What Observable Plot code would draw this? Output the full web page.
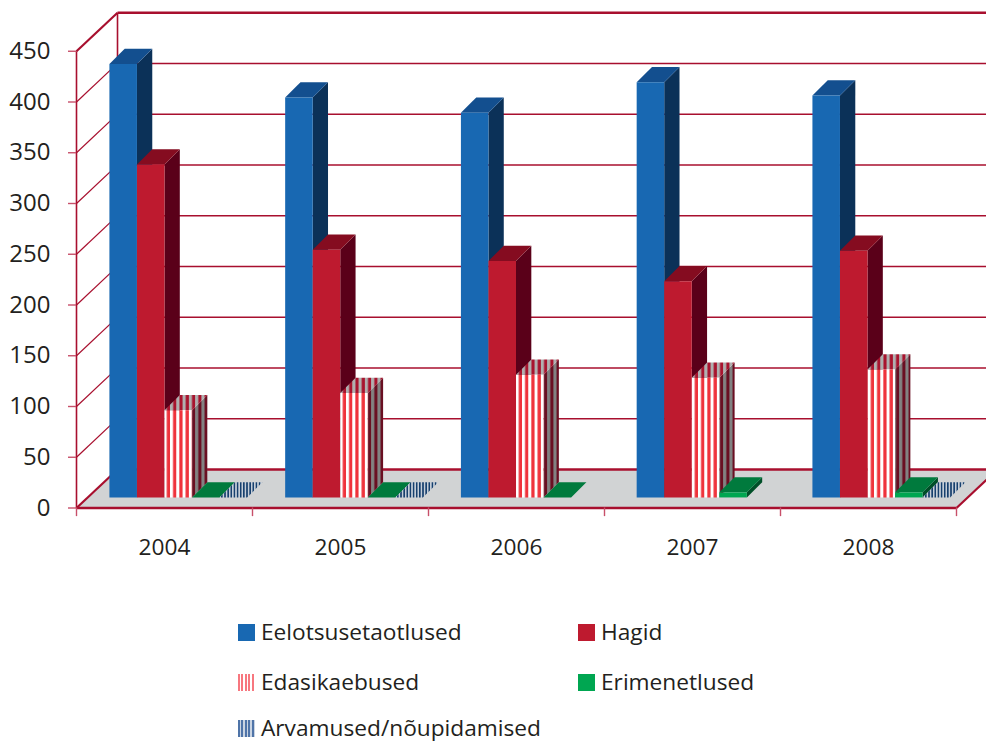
<!DOCTYPE html>
<html lang="et">
<head>
<meta charset="utf-8">
<script src="https://cdn.jsdelivr.net/npm/d3@7"></script>
<script src="https://cdn.jsdelivr.net/npm/@observablehq/plot@0.6"></script>
<style>
  html, body { margin: 0; padding: 0; background: #fff; overflow: hidden; }
  #page { position: relative; width: 986px; height: 744px; font-family: "Open Sans", sans-serif; color: #231f20; }
  #chart svg { display: block; }
  .key { position: absolute; display: flex; align-items: center; font-size: 22.7px; line-height: 24px; white-space: nowrap; }
  .key i { display: block; width: 17px; height: 17px; margin-right: 6px; }
</style>
</head>
<body>
<div id="page"><div id="chart"></div></div>
<script>
// Cases per year, by type of proceeding
const years = ["2004", "2005", "2006", "2007", "2008"];
const eelotsusetaotlused = [427, 394, 379, 409, 396];
const hagid = [328, 244, 233, 213, 243];
const edasikaebused = [86, 103, 121, 118, 126];
const erimenetlused = [0, 0, 0, 5, 5];
const arvamused = [0, 0, null, null, 0];
const valueTicks = [0, 50, 100, 150, 200, 250, 300, 350, 400, 450];

// Oblique projection, in scale units: one category along x, one case along y
const wallDx = 0.233, wallDy = 38;
const barDx = 0.087, barDy = 15;
const baseDx = 0.187, baseDy = 10.4;
const barWidth = 0.1565;
const groupPitch = 0.9986;
const xMax = 910 / 176;

const wine = "#a80f2e", tickPink = "#c8506a";
const stripePeriod = 176 / 28;
const legendRowTops = [620, 670, 716];

const series = [
  {name: "Eelotsusetaotlused", values: eelotsusetaotlused, front: "#1868b2", top: "#134f8f", side: "#0b3158", key: "#1868b2", col: 0, row: 0},
  {name: "Hagid", values: hagid, front: "#be1a2f", top: "#850c20", side: "#5a0019", key: "#be1a2f", col: 1, row: 0},
  {name: "Edasikaebused", values: edasikaebused, front: "url(#s-front)", top: "url(#s-top)", side: "url(#s-side)",
   key: "repeating-linear-gradient(90deg,#f7777f 0 2px,#fff 2px 3.4px)", col: 0, row: 1},
  {name: "Erimenetlused", values: erimenetlused, front: "#00a651", top: "#007a3d", side: "#004f28", key: "#00a651", col: 1, row: 1},
  {name: "Arvamused/nõupidamised", values: arvamused, front: "url(#a-top)", top: "url(#a-top)", side: "url(#a-top)",
   key: "repeating-linear-gradient(90deg,#4f74a8 0 2px,#c9d4e2 2px 3.4px)", col: 0, row: 2}
];

// Vertical stripe fills for the two hatched series
const stripes = (id, a, b, phase, period = stripePeriod, share = 0.5) => `
  <pattern id="${id}" patternUnits="userSpaceOnUse" x="${phase}" y="0" width="${period}" height="10">
    <rect width="${period}" height="10" fill="${b}"/>
    <rect x="${period * (1 - share)}" width="${period * share}" height="10" fill="${a}"/>
  </pattern>`;
const defs = () => {
  const g = d3.create("svg:defs");
  g.html(
    stripes("s-front", "#ef333c", "#ffffff", 163.2, stripePeriod, 0.52) +
    stripes("s-top", "#a8142e", "#b0b0b0", 163.2) +
    stripes("s-side", "#6a0f22", "#828282", 163.2) +
    stripes("a-top", "#17406e", "#c6ced8", 219, stripePeriod / 2)
  );
  return g.node();
};

const poly = (points, fill) => Plot.line(points.map(([x, y]) => ({x, y})), {x: "x", y: "y", fill, stroke: "none"});
const seg = (x1, y1, x2, y2, strokeWidth = 1.4, stroke = wine) =>
  Plot.line([{x: x1, y: y1}, {x: x2, y: y2}], {x: "x", y: "y", stroke, strokeWidth, strokeLinecap: "butt"});

// One box in projection: side and top faces, then the front face
function box(xLeft, value, s) {
  const x0 = xLeft, x1 = xLeft + barWidth;
  const y0 = baseDy, y1 = baseDy + value;
  const marks = [];
  if (value > 0) marks.push(poly([[x1, y0], [x1 + barDx, y0 + barDy], [x1 + barDx, y1 + barDy], [x1, y1]], s.side));
  marks.push(poly([[x0, y1], [x1, y1], [x1 + barDx, y1 + barDy], [x0 + barDx, y1 + barDy]], s.top));
  if (value > 0) marks.push(poly([[x0, y0], [x1, y0], [x1, y1], [x0, y1]], s.front));
  return marks;
}

const bars = years.flatMap((_, i) =>
  series.flatMap((s, j) =>
    s.values[i] == null ? [] : box(i * groupPitch + baseDx + j * barWidth, s.values[i], s)
  )
);

const floor = poly([[0, 0], [5, 0], [5 + wallDx, wallDy], [wallDx, wallDy]], "#d1d3d4");

const wallLines = valueTicks.flatMap((v) => {
  const edge = v === 0 || v === 450;
  const w = edge ? 2.4 : 1.4;
  return [
    seg(0, v, wallDx, v + wallDy, edge ? 2.2 : 1.2),
    seg(wallDx, v + wallDy, xMax, v + wallDy, w)
  ];
});

const chart = Plot.plot({
  width: 986,
  height: 600,
  marginLeft: 76,
  marginRight: 0,
  marginTop: 0,
  marginBottom: 92.5,
  x: {domain: [0, xMax], axis: null},
  y: {domain: [0, 500], axis: null},
  style: {fontFamily: '"Open Sans", sans-serif', color: "#231f20", background: "#fff", overflow: "hidden"},
  marks: [
    defs,
    floor,
    ...wallLines,
    seg(0, 0, 0, 450, 1.6),
    seg(wallDx, wallDy, wallDx, 450 + wallDy, 1.6),
    seg(0, 0, 5, 0, 2.6),
    seg(5, 0, 5 + wallDx, wallDy, 2.2),
    ...bars,
    Plot.ruleY(valueTicks, {x1: -8 / 176, x2: 0, stroke: tickPink, strokeWidth: 1.4}),
    Plot.ruleX(d3.range(6), {y1: 0, y2: -8.5, stroke: tickPink, strokeWidth: 1.4}),
    Plot.axisY({ticks: valueTicks, tickSize: 0, tickPadding: 26, fontSize: 24, fill: "#231f20", label: null, tickFormat: d3.format("d")}),
    Plot.axisX({ticks: years.map((_, i) => i + 0.5), tickSize: 0, tickPadding: 31, fontSize: 22.7, fill: "#231f20", label: null,
      tickFormat: (d) => years[Math.floor(d)]})
  ]
});
document.getElementById("chart").append(chart);

// Legend below the plot
const page = document.getElementById("page");
for (const s of series) {
  const key = document.createElement("div");
  key.className = "key";
  key.style.left = (s.col ? 578 : 238) + "px";
  key.style.top = legendRowTops[s.row] + "px";
  const swatch = document.createElement("i");
  swatch.style.background = s.key;
  key.append(swatch, s.name);
  page.append(key);
}
</script>
</body>
</html>
